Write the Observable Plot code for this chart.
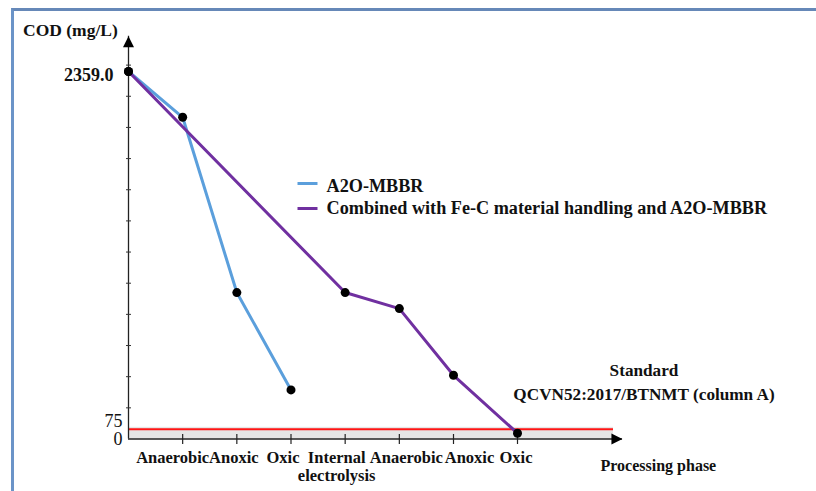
<!DOCTYPE html>
<html>
<head>
<meta charset="utf-8">
<script src="https://cdn.jsdelivr.net/npm/d3@7"></script>
<script src="https://cdn.jsdelivr.net/npm/@observablehq/plot@0.6"></script>
<style>
  html, body { margin: 0; padding: 0; background: #fff; }
  #wrap { position: relative; width: 816px; height: 491px; overflow: hidden; background: #fff; }
  #wrap svg { position: absolute; left: 0; top: 0; }
  #frame { position: absolute; left: 11px; top: 8px; width: 1000px; height: 700px;
           border-top: 3px solid #6688b8; border-left: 3px solid #6b94c8; box-sizing: border-box; }
</style>
</head>
<body>
<div id="wrap"></div>
<script>
// ---- data ----
const stageIndex = [1, 2, 3, 4, 5, 6, 7];
const stageLabels = ["Anaerobic", "Anoxic", "Oxic", "Internal\nelectrolysis", "Anaerobic", "Anoxic", "Oxic"];
const a2oStage = [0, 1, 2, 3];
const a2oCOD = [2359, 2065, 940, 315];
const feStage = [0, 4, 5, 6, 7];
const feCOD = [2359, 940, 837, 409, 37];
const standardCOD = 75;
const yMax = 2359;
const minorTicks = d3.range(200, 2401, 200);
const seriesNames = ["A2O-MBBR", "Combined with Fe-C material handling and A2O-MBBR"];
const seriesColors = ["#5b9fdc", "#7030a0"];
const yTitle = "COD (mg/L)";
const xTitle = "Processing phase";
const standardNote = "Standard\nQCVN52:2017/BTNMT (column A)";

// ---- chart ----
const a2o = a2oStage.map((s, i) => ({stage: s, cod: a2oCOD[i]}));
const fe = feStage.map((s, i) => ({stage: s, cod: feCOD[i]}));

const yArrow = 2585;   // top of the y-axis arrow
const xArrow = 8.64;   // tip of the x-axis arrow
const bandEnd = 8.5;   // end of the standard band

const vtick = {draw(c) { c.moveTo(0, -5); c.lineTo(0, 5); }};
const htick = {draw(c) { c.moveTo(-2.5, 0); c.lineTo(2.5, 0); }};
const head = {draw(c) { c.moveTo(0, 0); c.lineTo(-5.5, 11); c.lineTo(5.5, 11); c.closePath(); }};
const swatch = {draw(c) { c.moveTo(-10, 0); c.lineTo(10, 0); }};

// small layout nudges for the category labels (as placed in the original figure)
const labelDx = [-10, -3, -8, -8.5, 7, 16, -1.5];
const serif = "'Liberation Serif', 'Times New Roman', serif";

const legendY = [183, 208];
const legendBase = [191, 213];

const chart = Plot.plot({
  width: 816,
  height: 491,
  margin: 0,
  x: {type: "linear", domain: [0, 6, 7], range: [128, 453, 517], axis: null},
  y: {type: "linear", domain: [0, yMax], range: [438.5, 71], axis: null},
  style: {fontFamily: serif, background: "transparent", color: "#111", overflow: "visible"},
  marks: [
    Plot.rect([0], {x1: 0, x2: bandEnd, y1: 0, y2: standardCOD, fill: "#e6e6e6"}),
    Plot.ruleY([standardCOD], {x1: 0, x2: bandEnd, dy: 2, stroke: "#ff1414", strokeWidth: 2}),
    Plot.ruleX([0], {y1: 0, y2: yArrow, stroke: "#222", strokeWidth: 1.3}),
    Plot.ruleY([0], {x1: 0, x2: xArrow, stroke: "#222", strokeWidth: 1.3}),
    Plot.dot([0], {x: 0, y: yArrow, symbol: head, fill: "#000", stroke: "none"}),
    Plot.dot([0], {x: xArrow, y: 0, symbol: head, rotate: 90, fill: "#000", stroke: "none"}),
    Plot.dot(minorTicks, {x: 0, y: d => d, symbol: htick, fill: "none", stroke: "#333", strokeWidth: 1}),
    Plot.dot(stageIndex, {x: d => d, y: 0, symbol: vtick, fill: "none", stroke: "#222", strokeWidth: 1.2}),

    Plot.line(a2o, {x: "stage", y: "cod", stroke: seriesColors[0], strokeWidth: 3}),
    Plot.line(fe, {x: "stage", y: "cod", stroke: seriesColors[1], strokeWidth: 3}),
    Plot.dot(a2o, {x: "stage", y: "cod", r: 4.5, fill: "#000", stroke: "none"}),
    Plot.dot(fe, {x: "stage", y: "cod", r: 4.5, fill: "#000", stroke: "none"}),

    // y labels
    Plot.text([yMax], {x: 0, y: d => d, text: d => d.toFixed(1), textAnchor: "end", dx: -15, dy: 4,
      fontSize: 18, fontWeight: "bold", fill: "#111"}),
    Plot.text([standardCOD], {x: 0, y: d => d, text: d => String(d), textAnchor: "end", dx: -6, dy: -6,
      fontSize: 18, fill: "#111"}),
    Plot.text([0], {x: 0, y: d => d, text: d => String(d), textAnchor: "end", dx: -6, dy: 0.5,
      fontSize: 18, fill: "#111"}),

    // x category labels
    ...stageIndex.map((s, i) => Plot.text([s], {x: d => d, y: 0, text: () => stageLabels[i],
      dx: labelDx[i], dy: 11.3, lineAnchor: "top", lineHeight: 1.1,
      fontSize: 16.5, fontWeight: "bold", fill: "#111"})),

    // titles & notes
    Plot.text([yTitle], {frameAnchor: "top-left", dx: 22.5, dy: 35, text: d => d, textAnchor: "start",
      lineAnchor: "bottom", fontSize: 17.5, fontWeight: "bold", fill: "#111"}),
    Plot.text([xTitle], {frameAnchor: "top-left", dx: 600, dy: 470, text: d => d, textAnchor: "start",
      lineAnchor: "bottom", fontSize: 16, fontWeight: "bold", fill: "#111"}),
    Plot.text([standardNote], {frameAnchor: "top-left", dx: 643.5, dy: 399, text: d => d, textAnchor: "middle",
      lineAnchor: "bottom", lineHeight: 1.35, fontSize: 17.2, fontWeight: "bold", fill: "#111"}),

    // legend
    ...seriesNames.map((name, i) => Plot.dot([name], {frameAnchor: "top-left", dx: 307, dy: legendY[i],
      symbol: swatch, fill: "none", stroke: seriesColors[i], strokeWidth: 3})),
    ...seriesNames.map((name, i) => Plot.text([name], {frameAnchor: "top-left", dx: 326, dy: legendBase[i],
      text: d => d, textAnchor: "start", lineAnchor: "bottom", fontSize: 18.2, fontWeight: "bold", fill: "#111"}))
  ]
});

const wrap = document.getElementById("wrap");
wrap.appendChild(chart);
const frame = document.createElement("div");
frame.id = "frame";
wrap.appendChild(frame);
</script>
</body>
</html>
